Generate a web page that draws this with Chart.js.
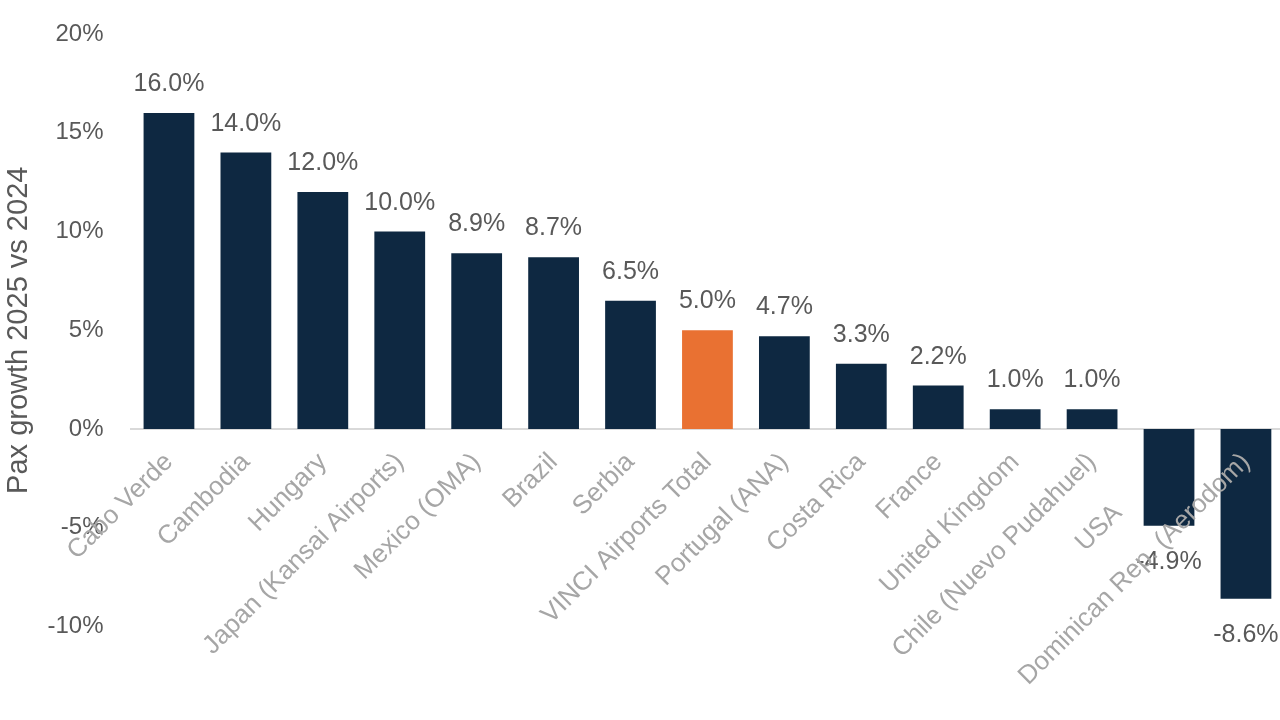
<!DOCTYPE html>
<html>
<head>
<meta charset="utf-8">
<title>Pax growth 2025 vs 2024</title>
<script src="https://cdn.jsdelivr.net/npm/chart.js@4.4.1/dist/chart.umd.min.js"></script>
<style>
    html, body { margin: 0; padding: 0; background: #ffffff; overflow: hidden; }
    #wrap { width: 1280px; height: 720px; overflow: hidden; }
</style>
</head>
<body>
<div id="wrap">
    <canvas id="growthChart" width="1286" height="720"></canvas>
</div>
<script>
// the USA label carries trailing blanks in the source, which pushes it down the slant
const categories = [
    'Cabo Verde', 'Cambodia', 'Hungary', 'Japan (Kansai Airports)', 'Mexico (OMA)',
    'Brazil', 'Serbia', 'VINCI Airports Total', 'Portugal (ANA)', 'Costa Rica',
    'France', 'United Kingdom', 'Chile (Nuevo Pudahuel)', 'USA          ', 'Dominican Rep. (Aerodom)'
];
const growth = [16.0, 14.0, 12.0, 10.0, 8.9, 8.7, 6.5, 5.0, 4.7, 3.3, 2.2, 1.0, 1.0, -4.9, -8.6];
const yTicks = [-10, -5, 0, 5, 10, 15, 20];
const highlight = 'VINCI Airports Total';

const NAVY = '#0E2841';
const ORANGE = '#E97132';
const FONT = "'Liberation Sans', Arial, sans-serif";

const barColors = categories.map(c => c === highlight ? ORANGE : NAVY);

function formatPct(v) {
    return v.toFixed(1) + '%';
}

// value labels above positive bars, below negative ones
const valueLabels = {
    id: 'valueLabels',
    afterDatasetsDraw(chart) {
        const ctx = chart.ctx;
        const meta = chart.getDatasetMeta(0);
        ctx.save();
        ctx.font = `25px ${FONT}`;
        ctx.fillStyle = '#595959';
        ctx.textAlign = 'center';
        ctx.textBaseline = 'alphabetic';
        meta.data.forEach((bar, i) => {
            const v = growth[i];
            const y = v >= 0 ? bar.y - 22 : bar.y + 43;
            ctx.fillText(formatPct(v), bar.x, y);
        });
        ctx.restore();
    }
};

new Chart(document.getElementById('growthChart'), {
    type: 'bar',
    data: {
        labels: categories,
        datasets: [{
            data: growth,
            backgroundColor: barColors,
            borderWidth: 0,
            categoryPercentage: 1,
            barPercentage: 0.66
        }]
    },
    options: {
        responsive: false,
        animation: false,
        layout: { padding: { top: 34, bottom: 93.5, left: 0, right: 0 } },
        plugins: {
            legend: { display: false },
            tooltip: { enabled: false }
        },
        scales: {
            x: {
                type: 'category',
                position: { y: 0 },
                grid: { display: false, drawTicks: false },
                border: { display: true, color: '#D9D9D9', width: 2 },
                ticks: {
                    z: 1,
                    color: '#A6A6A6',
                    font: { family: FONT, size: 26 },
                    autoSkip: false,
                    minRotation: 45,
                    maxRotation: 45,
                    padding: 18
                }
            },
            y: {
                min: yTicks[0],
                max: yTicks[yTicks.length - 1],
                afterBuildTicks: (scale) => { scale.ticks = yTicks.map(v => ({ value: v })); },
                // fixed axis width; tick padding should not push the plot down
                afterFit: (scale) => {
                    scale.width = 130.5;
                    scale.paddingTop = 0;
                    scale.paddingBottom = 0;
                },
                grid: { display: false, drawTicks: false },
                border: { display: false },
                ticks: {
                    color: '#595959',
                    font: { family: FONT, size: 24 },
                    padding: 27,
                    callback: (v) => v + '%'
                },
                title: {
                    display: true,
                    text: 'Pax growth 2025 vs 2024',
                    color: '#595959',
                    font: { family: FONT, size: 29 },
                    padding: { top: 2, bottom: 0 }
                }
            }
        }
    },
    plugins: [valueLabels]
});
</script>
</body>
</html>
